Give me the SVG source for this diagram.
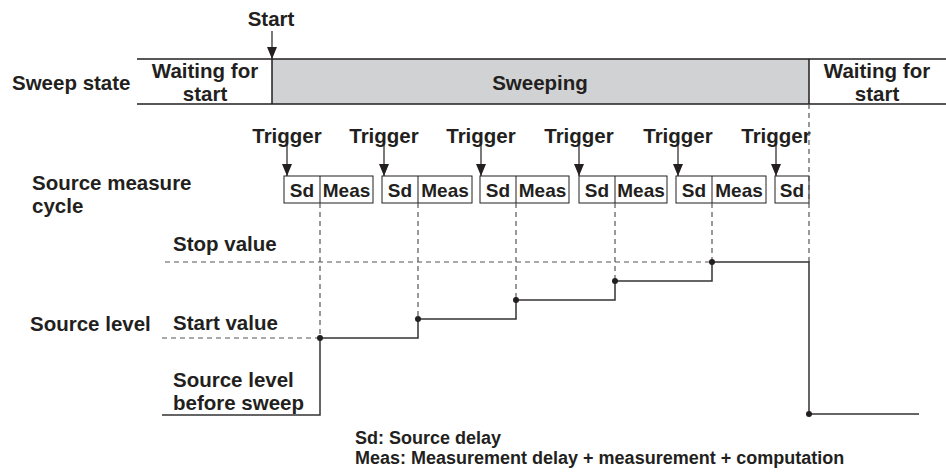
<svg xmlns="http://www.w3.org/2000/svg" width="946" height="473" viewBox="0 0 946 473">
<defs>
<style>
text{font-family:"Liberation Sans",Arial,sans-serif;font-weight:bold;font-size:20.5px;fill:#231f20}
.c{text-anchor:middle}
.bx{font-size:19px}
.leg{font-size:18px}
.box{fill:#fff;stroke:#231f20;stroke-width:1}
.sol{fill:none;stroke:#333;stroke-width:1.5}
.dash{fill:none;stroke:#555;stroke-width:1.2;stroke-dasharray:5 4}
.arr{fill:none;stroke:#231f20;stroke-width:1.2;marker-end:url(#ah)}
.dot{fill:#231f20}
</style>
<marker id="ah" viewBox="0 0 10 12" refX="5" refY="12" markerWidth="10" markerHeight="12" markerUnits="userSpaceOnUse" orient="0">
<path d="M0,0 L10,0 L5,12 z" fill="#231f20"/>
</marker>
</defs>

<g id="sweep-state">
<text x="12" y="90">Sweep state</text>
<rect x="272" y="59" width="537" height="45" fill="#d1d2d4"/>
<path d="M137 59 H946 M137 104 H946 M272 59 V104 M809 59 V104" stroke="#231f20" stroke-width="1.5" fill="none"/>
<text class="c" x="205" y="78">Waiting for</text>
<text class="c" x="205" y="101">start</text>
<text class="c" x="540" y="90">Sweeping</text>
<text class="c" x="877" y="78">Waiting for</text>
<text class="c" x="877" y="101">start</text>
</g>

<g id="start">
<text class="c" x="271" y="26">Start</text>
</g>

<g id="cycle-label">
<text x="32" y="190">Source measure</text>
<text x="32" y="213">cycle</text>
</g>

<g id="cycles">
<rect class="box" x="284" y="176" width="89" height="27"/><path d="M320 176 V203" stroke="#231f20"/>
<text class="c bx" x="302" y="197">Sd</text><text class="c bx" x="346.5" y="197">Meas</text>
<rect class="box" x="382" y="176" width="90" height="27"/><path d="M418 176 V203" stroke="#231f20"/>
<text class="c bx" x="400" y="197">Sd</text><text class="c bx" x="445" y="197">Meas</text>
<rect class="box" x="480" y="176" width="89" height="27"/><path d="M516 176 V203" stroke="#231f20"/>
<text class="c bx" x="498" y="197">Sd</text><text class="c bx" x="542.5" y="197">Meas</text>
<rect class="box" x="579" y="176" width="88" height="27"/><path d="M615 176 V203" stroke="#231f20"/>
<text class="c bx" x="597" y="197">Sd</text><text class="c bx" x="641" y="197">Meas</text>
<rect class="box" x="676" y="176" width="90" height="27"/><path d="M712 176 V203" stroke="#231f20"/>
<text class="c bx" x="694" y="197">Sd</text><text class="c bx" x="739" y="197">Meas</text>
<rect class="box" x="775" y="176" width="34" height="27"/>
<text class="c bx" x="792" y="197">Sd</text>
</g>

<g id="triggers">
<text class="c" x="287" y="143">Trigger</text>
<text class="c" x="384" y="143">Trigger</text>
<text class="c" x="481" y="143">Trigger</text>
<text class="c" x="579" y="143">Trigger</text>
<text class="c" x="678" y="143">Trigger</text>
<text class="c" x="776" y="143">Trigger</text>
</g>

<g id="level-labels">
<text x="173" y="251">Stop value</text>
<text x="30" y="331">Source level</text>
<text x="173" y="330">Start value</text>
<text x="173" y="387">Source level</text>
<text x="173" y="410">before sweep</text>
</g>

<g id="connectors">
<path class="arr" d="M272 31 V59"/>
<path class="arr" d="M287 145 V176"/>
<path class="arr" d="M384 145 V176"/>
<path class="arr" d="M481 145 V176"/>
<path class="arr" d="M579 145 V176"/>
<path class="arr" d="M678 145 V176"/>
<path class="arr" d="M776 145 V176"/>
<path class="dash" d="M320 203 V338 M418 203 V319 M516 203 V300 M615 203 V281 M712 203 V262 M809 104 V262"/>
<path class="dash" d="M165 262 H712 M162 338 H320"/>
<path class="sol" d="M162 415 H320 V338 H418 V319 H516 V300 H615 V281 H712 V262 H809 V414 H919"/>
<circle class="dot" cx="320" cy="338" r="3"/>
<circle class="dot" cx="418" cy="319" r="3"/>
<circle class="dot" cx="516" cy="300" r="3"/>
<circle class="dot" cx="615" cy="281" r="3"/>
<circle class="dot" cx="712" cy="262" r="3"/>
<circle class="dot" cx="809" cy="414" r="3"/>
</g>

<g id="legend">
<text class="leg" x="355" y="444">Sd: Source delay</text>
<text class="leg" x="355" y="464">Meas: Measurement delay + measurement + computation</text>
</g>
</svg>
